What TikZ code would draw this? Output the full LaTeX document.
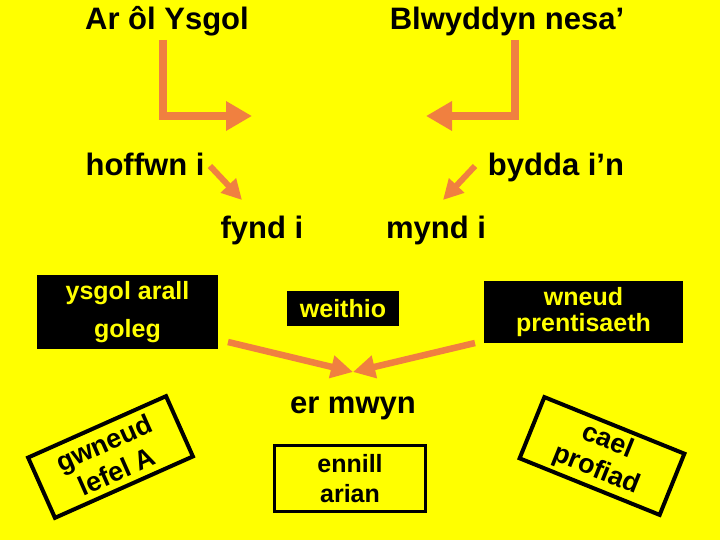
\documentclass[tikz,border=0pt]{standalone}
\usepackage{fontspec}
\setmainfont{Liberation Sans}
\usetikzlibrary{arrows.meta}
\definecolor{bgyellow}{RGB}{255,255,0}
\definecolor{arroworange}{RGB}{240,128,64}
\begin{document}
\begin{tikzpicture}[x=1pt,y=-1pt,
  lbl/.style={font=\fontsize{31}{36}\selectfont\bfseries, inner sep=0pt, anchor=base},
  blackbox/.style={fill=black, text=bgyellow, align=center, inner sep=0pt},
  framebox/.style={draw=black, fill=bgyellow, text=black, align=center, inner sep=0pt},
  bigarrow/.style={draw=arroworange, line width=8pt, -{Triangle[width=28pt,length=26pt]}},
  smallarrow/.style={draw=arroworange, line width=6pt, -{Triangle[width=20pt,length=20pt]}},
  midarrow/.style={draw=arroworange, line width=6.5pt, -{Triangle[width=22pt,length=22pt]}}
]
\fill[bgyellow] (0,0) rectangle (720,540);
\useasboundingbox (0,0) rectangle (720,540);

% titles and labels
\node[lbl] (t1) at (167,30) {Ar ôl Ysgol};
\node[lbl] (t2) at (507,30) {Blwyddyn nesa’};
\node[lbl] (h1) at (145,176) {hoffwn i};
\node[lbl] (h2) at (556,176) {bydda i’n};
\node[lbl] (f1) at (262,238) {fynd i};
\node[lbl] (f2) at (436,238) {mynd i};
\node[lbl] (er) at (353,413) {er mwyn};

% boxes
\node[blackbox, minimum width=181pt, minimum height=74pt,
      font=\fontsize{25}{38}\selectfont\bfseries] (b1) at (127.5,312) {ysgol arall\\goleg};
\node[blackbox, minimum width=112pt, minimum height=35pt,
      font=\fontsize{25}{30}\selectfont\bfseries] (b2) at (343,308.5) {weithio};
\node[blackbox, minimum width=199pt, minimum height=62pt,
      font=\fontsize{25}{26}\selectfont\bfseries] (b3) at (583.5,312) {wneud\\prentisaeth};
\node[framebox, line width=3pt, minimum width=151pt, minimum height=66pt,
      font=\fontsize{25}{30}\selectfont\bfseries] (b4) at (350,478.5) {ennill\\arian};
\node[framebox, line width=4pt, minimum width=151pt, minimum height=66pt, rotate=24,
      font=\fontsize{27}{31}\selectfont\bfseries] (b5) at (110.5,457) {gwneud\\lefel A};
\node[framebox, line width=4pt, minimum width=151pt, minimum height=66pt, rotate=-22,
      font=\fontsize{27}{31}\selectfont\bfseries] (b6) at (602,456) {cael\\profiad};

% connector end points
\coordinate (a1s) at (163,40);
\coordinate (a1e) at (252,116);
\coordinate (a2s) at (515,40);
\coordinate (a2e) at (426,116);
\coordinate (s1s) at (210,166);
\coordinate (s1e) at (242,200);
\coordinate (s2s) at (475,166);
\coordinate (s2e) at (443,200);
\coordinate (m1s) at (228,342);
\coordinate (m2s) at (475,343);
\coordinate (mm) at (353,372);

\draw[bigarrow] (a1s) |- (a1e);
\draw[bigarrow] (a2s) |- (a2e);
\draw[smallarrow] (s1s) -- (s1e);
\draw[smallarrow] (s2s) -- (s2e);
\draw[midarrow] (m1s) -- (mm);
\draw[midarrow] (m2s) -- (mm);
\end{tikzpicture}
\end{document}
